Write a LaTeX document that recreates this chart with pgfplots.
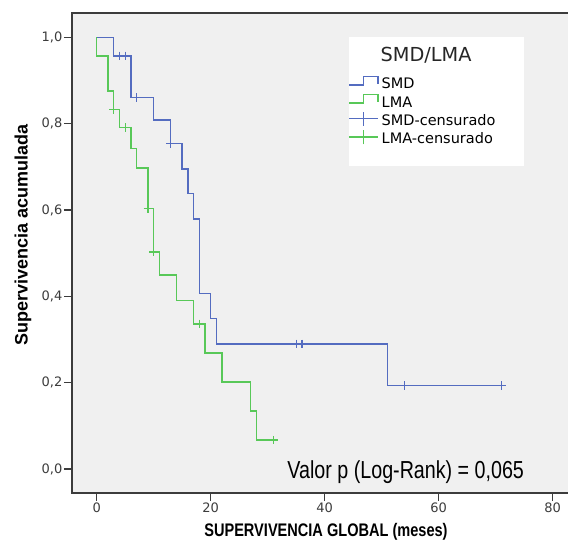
\documentclass[border=0pt]{standalone}
\usepackage{pgfplots}
\pgfplotsset{compat=1.18}
\usepackage{fontspec}
\setmainfont{Liberation Sans}
\newfontfamily\dejavu{DejaVu Sans}
\newfontfamily\libsans{Liberation Sans}
\newfontfamily\libnarrow[FakeStretch=0.8]{Liberation Sans}
\definecolor{smdblue}{RGB}{84,108,192}
\definecolor{lmagreen}{RGB}{88,200,88}
\definecolor{bggray}{RGB}{240,240,240}
\definecolor{axgray}{RGB}{60,60,60}
\definecolor{tickgray}{RGB}{60,60,60}
\begin{document}
\begin{tikzpicture}
\path[use as bounding box] (-72pt,-48pt) rectangle (496pt,493pt);
\begin{axis}[
  at={(0,0)}, anchor=south west,
  scale only axis,
  width=498pt, height=480pt,
  xmin=-4.333, xmax=83.035,
  ymin=-0.0556, ymax=1.0563,
  axis background/.style={fill=bggray},
  axis line style={line width=1.3pt, axgray},
  xtick={0,20,40,60,80},
  ytick={0,0.2,0.4,0.6,0.8,1.0},
  xtick pos=lower, ytick pos=left,
  tick align=outside,
  major tick length=8pt,
  tick style={line width=1.1pt, axgray},
  /pgf/number format/assume math mode=true,
  ticklabel style={font=\dejavu\fontsize{13}{15}\selectfont, text=tickgray, inner sep=1.5pt},
  yticklabel style={/pgf/number format/.cd, use comma, fixed, fixed zerofill, precision=1},
  xlabel={\libnarrow\bfseries\fontsize{18.2}{20}\selectfont SUPERVIVENCIA GLOBAL (meses)},
  xlabel style={at={(rel axis cs:0.51,-0.0915)}, anchor=base},
  ylabel={\libsans\bfseries\fontsize{18}{20}\selectfont Supervivencia acumulada},
  ylabel style={at={(rel axis cs:-0.0984,0.5375)}, anchor=center},
  legend style={at={(axis cs:44.26,0.9064)}, anchor=north west, draw=none, fill=none,
    inner sep=0pt, row sep=3.8pt,
    font=\dejavu\fontsize{14.5}{16}\selectfont,
    nodes={inner sep=0pt, text height=11pt, text depth=3.5pt}},
  legend cell align=left,
]
\fill[white] (axis cs:44.26,1.001) rectangle (axis cs:75.0,0.7026);
\node[anchor=base west, font=\dejavu\fontsize{19.3}{21}\selectfont, text=black!85] at (axis cs:49.2,0.945) {SMD/LMA};
\node[anchor=base west, font=\libnarrow\fontsize{24.6}{26}\selectfont] at (axis cs:32.85,-0.021) {Valor p (Log-Rank) = 0,065};

\addplot[const plot, smdblue, line width=1.4pt, mark=none,
  legend image code/.code={\path[draw=none, fill=none] (0pt,-5pt) rectangle (32.5pt,5pt); \draw[overlay, smdblue, line width=1.4pt] (0pt,0.3pt) -- (14.3pt,0.3pt) -- (14.3pt,8.7pt) -- (29pt,8.7pt) -- (29pt,1.3pt);}]
  coordinates {(0,1) (3,0.957) (6,0.861) (10,0.808) (13,0.754) (15,0.695) (16,0.638) (17,0.579) (18,0.406) (20,0.348) (21,0.290) (51,0.193) (71,0.193)};
\addlegendentry{SMD}
\addplot[const plot, lmagreen, line width=1.4pt, mark=none,
  legend image code/.code={\path[draw=none, fill=none] (0pt,-5pt) rectangle (32.5pt,5pt); \draw[overlay, lmagreen, line width=1.4pt] (0pt,0.3pt) -- (14.3pt,0.3pt) -- (14.3pt,8.7pt) -- (29pt,8.7pt) -- (29pt,1.3pt);}]
  coordinates {(0,1) (0,0.957) (2,0.876) (3,0.833) (4,0.791) (6,0.743) (7,0.697) (9,0.604) (10,0.503) (11,0.449) (14,0.391) (17,0.336) (19,0.269) (22,0.2015) (27,0.134) (28,0.067) (31,0.067)};
\addlegendentry{LMA}
\addplot[only marks, mark=+, mark size=4.3pt, smdblue, mark options={line width=1.3pt, draw=smdblue},
  legend image code/.code={\path[draw=none, fill=none] (0pt,-5pt) rectangle (32.5pt,5pt); \draw[overlay, smdblue, line width=1.3pt] (0pt,3pt) -- (29pt,3pt); \draw[overlay, smdblue, line width=1.3pt] (14.3pt,-4.2pt) -- (14.3pt,10.2pt);}]
  coordinates {(4,0.957) (5,0.957) (7,0.861) (13,0.754) (35,0.290) (36,0.290) (54,0.193) (71,0.193)};
\addlegendentry{SMD-censurado}
\addplot[only marks, mark=+, mark size=4.3pt, lmagreen, mark options={line width=1.3pt, draw=lmagreen},
  legend image code/.code={\path[draw=none, fill=none] (0pt,-5pt) rectangle (32.5pt,5pt); \draw[overlay, lmagreen, line width=1.3pt] (0pt,3pt) -- (29pt,3pt); \draw[overlay, lmagreen, line width=1.3pt] (14.3pt,-4.2pt) -- (14.3pt,10.2pt);}]
  coordinates {(3,0.833) (5,0.791) (9,0.604) (10,0.503) (18,0.336) (31,0.067)};
\addlegendentry{LMA-censurado}
\end{axis}
\end{tikzpicture}
\end{document}
